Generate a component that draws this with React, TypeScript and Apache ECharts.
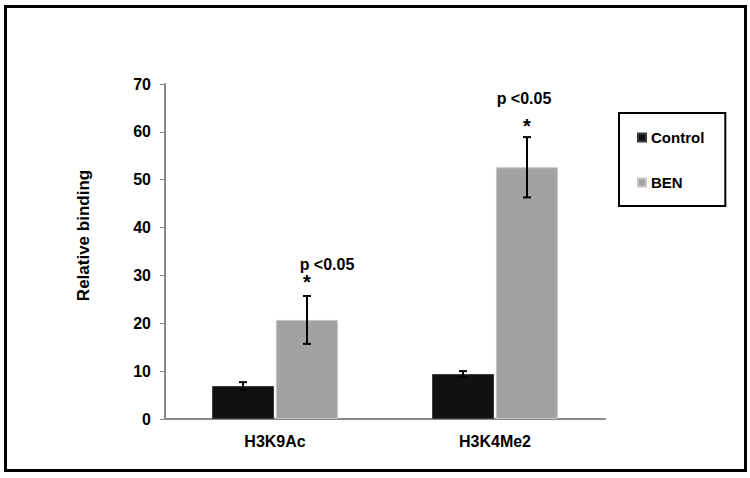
import React, { useEffect, useRef } from "react";
import * as echarts from "echarts";

const categories = ["H3K9Ac", "H3K4Me2"];
const seriesNames = ["Control", "BEN"];
const controlValues = [6.9, 9.4];
const benValues = [20.7, 52.6];
const controlErr = [0.8, 0.6];
const benErr = [5.0, 6.3];
const starValues = [29.4, 62.0];
const pValues = [32.2, 67.0];
const pText = "p <0.05";
const yTicks = [0, 10, 20, 30, 40, 50, 60, 70];

const BAR_W = 62;
const BAR_GAP = 2;

export default function App() {
  const ref = useRef<HTMLDivElement>(null);
  useEffect(() => {
    if (!ref.current) return;
    const chart = echarts.init(ref.current, undefined, { renderer: "svg" });
    const font = "'Liberation Sans', Arial, sans-serif";
    const errData: number[][] = [];
    categories.forEach((_, i) => {
      errData.push([i, controlValues[i] - controlErr[i], controlValues[i] + controlErr[i], 0]);
      errData.push([i, benValues[i] - benErr[i], benValues[i] + benErr[i], 1]);
    });
    const annData = categories.map((_, i) => [i, starValues[i], pValues[i]]);
    const pDx = [20, -3];
    const half = (BAR_W + BAR_GAP) / 2;
    const txt = { fontFamily: font, fontWeight: "bold", fontSize: 16, color: "#000" };
    chart.setOption({
      animation: false,
      graphic: [
        {
          type: "rect",
          shape: { x: 5.5, y: 6.5, width: 740, height: 464 },
          style: { fill: "none", stroke: "#000", lineWidth: 3 },
          silent: true,
        },
      ],
      grid: { left: 165, right: 145, top: 84, bottom: 59, containLabel: false },
      legend: {
        orient: "vertical",
        left: 619,
        top: 113,
        padding: [17, 21, 16, 18],
        itemGap: 30,
        itemWidth: 8,
        itemHeight: 8,
        borderColor: "#000",
        borderWidth: 2,
        icon: "rect",
        data: seriesNames,
        textStyle: { ...txt, fontSize: 15 },
      },
      xAxis: {
        type: "category",
        data: categories,
        axisLine: { lineStyle: { color: "#888", width: 2 } },
        axisTick: { show: false },
        axisLabel: { margin: 14, ...txt },
      },
      yAxis: {
        type: "value",
        min: 0,
        max: 70,
        interval: 10,
        name: "Relative binding",
        nameLocation: "middle",
        nameGap: 73,
        nameTextStyle: { ...txt, fontSize: 17, padding: [0, 0, 0, 32] },
        axisLine: { show: true, lineStyle: { color: "#888", width: 2 } },
        axisTick: { show: true, length: 5, lineStyle: { color: "#888" } },
        splitLine: { show: false },
        axisLabel: {
          margin: 14,
          ...txt,
          formatter: (v: number) => (yTicks.includes(v) ? String(v) : ""),
        },
      },
      series: [
        {
          name: seriesNames[0],
          type: "bar",
          data: controlValues,
          barWidth: BAR_W,
          barGap: "3%",
          itemStyle: { color: "#111", borderColor: "#3a3a3a", borderWidth: 1 },
        },
        {
          name: seriesNames[1],
          type: "bar",
          data: benValues,
          barWidth: BAR_W,
          itemStyle: { color: "#a2a2a2", borderColor: "#c6c6c6", borderWidth: 1 },
        },
        {
          type: "custom",
          data: errData,
          z: 5,
          renderItem: (_p: any, api: any) => {
            const cat = api.value(0);
            const lo = api.coord([cat, api.value(1)]);
            const hi = api.coord([cat, api.value(2)]);
            const x = lo[0] + (api.value(3) === 0 ? -half : half);
            const cap = 4;
            const st = { stroke: "#000", lineWidth: 2 };
            return {
              type: "group",
              children: [
                { type: "line", shape: { x1: x, y1: lo[1], x2: x, y2: hi[1] }, style: st },
                { type: "line", shape: { x1: x - cap, y1: lo[1], x2: x + cap, y2: lo[1] }, style: st },
                { type: "line", shape: { x1: x - cap, y1: hi[1], x2: x + cap, y2: hi[1] }, style: st },
              ],
            };
          },
        },
        {
          type: "custom",
          data: annData,
          z: 6,
          renderItem: (p: any, api: any) => {
            const cat = api.value(0);
            const s = api.coord([cat, api.value(1)]);
            const pp = api.coord([cat, api.value(2)]);
            const xs = s[0] + half;
            return {
              type: "group",
              children: [
                {
                  type: "text",
                  style: {
                    x: xs,
                    y: s[1] + 4,
                    text: "*",
                    fontFamily: font,
                    fontWeight: "bold",
                    fontSize: 20,
                    lineHeight: 10,
                    fill: "#000",
                    align: "center",
                    verticalAlign: "middle",
                  },
                },
                {
                  type: "text",
                  style: {
                    x: xs + pDx[p.dataIndex],
                    y: pp[1],
                    text: pText,
                    fontFamily: font,
                    fontWeight: "bold",
                    fontSize: 16,
                    lineHeight: 14,
                    fill: "#000",
                    align: "center",
                    verticalAlign: "middle",
                  },
                },
              ],
            };
          },
        },
      ],
    });
    return () => chart.dispose();
  }, []);
  return (
    <div
      ref={ref}
      style={{ position: "fixed", left: 0, top: 0, width: 750, height: 478, background: "#fff" }}
    />
  );
}
